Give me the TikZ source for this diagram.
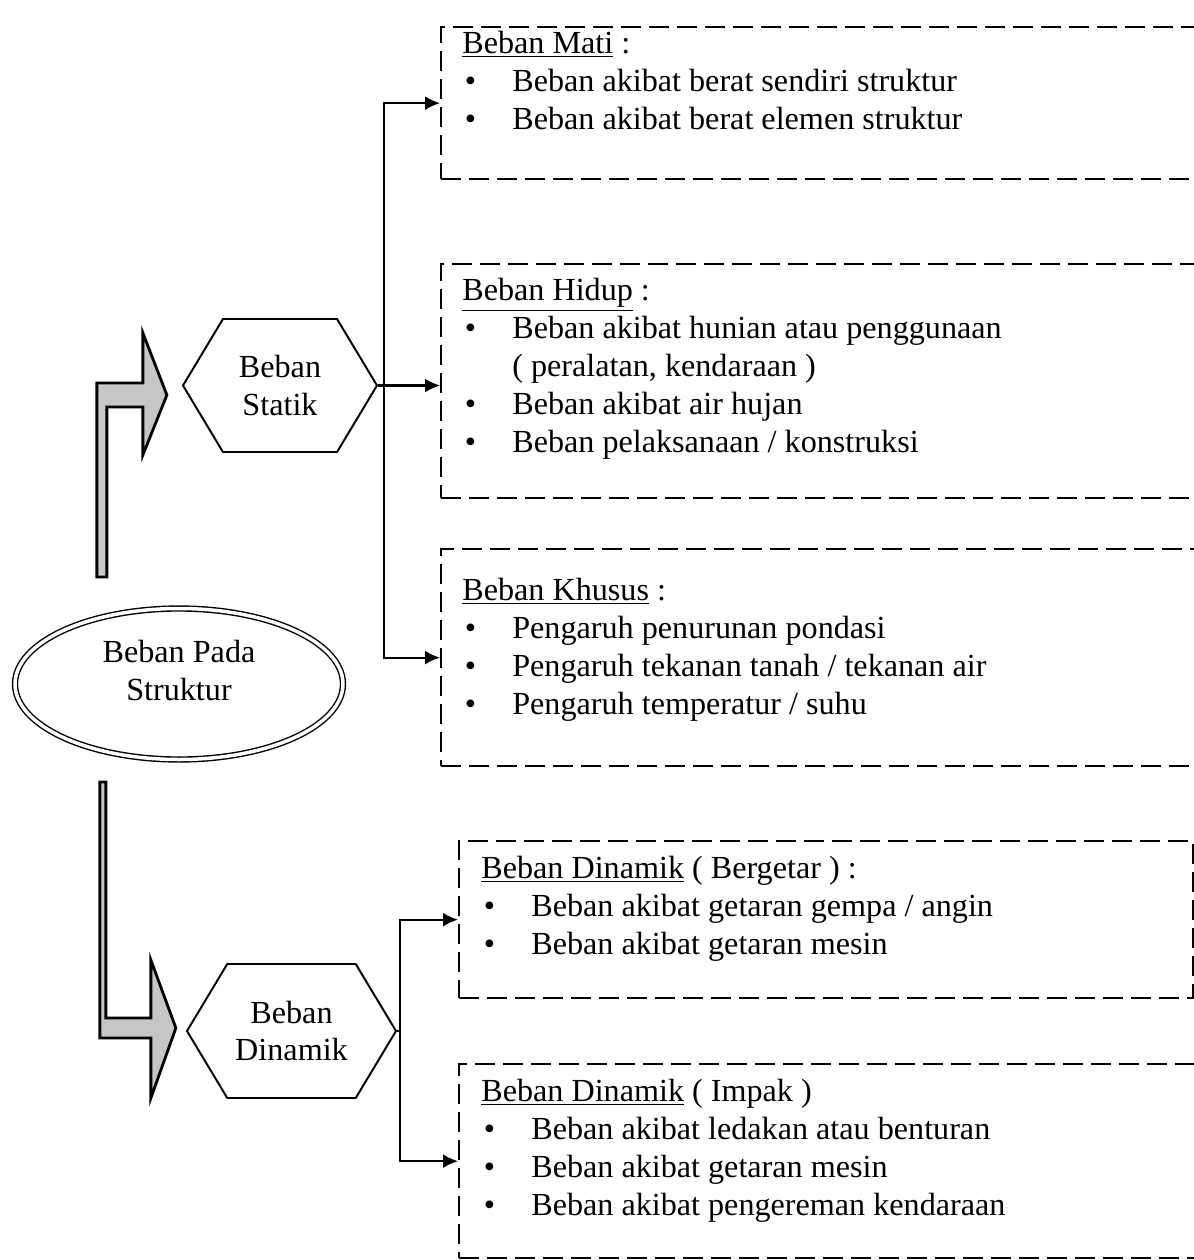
\documentclass[tikz,border=0pt]{standalone}
\usepackage{fontspec}
\setmainfont{Liberation Serif}
\usetikzlibrary{arrows.meta,shapes.geometric,shapes.symbols}
\tikzstyle{kotak} = [draw, dash pattern=on 0.4cm off 0.16cm, line width=1.3pt,
    rectangle, anchor=north west, inner sep=0pt]
\tikzstyle{isi} = [anchor=base west, align=left, inner sep=0pt]
\tikzstyle{segienam} = [draw, line width=1.1pt, signal, signal to=west and east,
    signal pointer angle=118, align=center, inner sep=0pt]
\tikzstyle{blokpanah} = [draw, line width=1.6pt, fill=gray!45, line join=miter]
\tikzstyle{garis} = [line width=1.2pt]
\newcommand{\butir}{\makebox[1cm][l]{\hspace{0.05cm}\textbullet}}

\begin{document}
\begin{tikzpicture}[>={Latex[length=3mm,width=2.8mm]}, font=\fontsize{18.3pt}{21.6pt}\selectfont]
    \useasboundingbox (0,0) rectangle (23.88,-25.2);
    \clip (0,0) rectangle (23.88,-25.2);
    % induk dan cabang
    \node [ellipse, draw, double, double distance=0.07cm, line width=0.8pt, minimum width=6.56cm,
        minimum height=3.02cm, inner sep=0pt, align=center] (pada) at (3.58,-13.68) {Beban Pada\\Struktur\\[-0.45cm]\strut};
    \node [segienam, minimum width=3.88cm, minimum height=2.66cm] (statik) at (5.6,-7.71) {Beban\\Statik};
    \node [segienam, minimum width=4.18cm, minimum height=2.68cm] (dinamik) at (5.83,-20.62) {Beban\\Dinamik};
    % kotak beban
    \node [kotak, minimum width=15.6cm, minimum height=3.04cm] (mati) at (8.8,-0.52) {};
    \node [kotak, minimum width=15.6cm, minimum height=4.69cm] (hidup) at (8.8,-5.25) {};
    \node [kotak, minimum width=15.6cm, minimum height=4.34cm] (khusus) at (8.8,-10.96) {};
    \node [kotak, minimum width=14.68cm, minimum height=3.14cm] (getar) at (9.16,-16.8) {};
    \node [kotak, minimum width=15.5cm, minimum height=3.88cm] (impak) at (9.16,-21.26) {};
    % isi kotak (base = baris terakhir)
    \node [isi] (mati-isi) at ([shift={(0.44,-2.07)}]mati.north west) {\underline{Beban Mati} :\\
        \butir Beban akibat berat sendiri struktur\\
        \butir Beban akibat berat elemen struktur};
    \node [isi] (hidup-isi) at ([shift={(0.44,-3.8)}]hidup.north west) {\underline{Beban Hidup} :\\
        \butir Beban akibat hunian atau penggunaan\\
        \hspace*{1cm}( peralatan, kendaraan )\\
        \butir Beban akibat air hujan\\
        \butir Beban pelaksanaan / konstruksi};
    \node [isi] (khusus-isi) at ([shift={(0.44,-3.33)}]khusus.north west) {\underline{Beban Khusus} :\\
        \butir Pengaruh penurunan pondasi\\
        \butir Pengaruh tekanan tanah / tekanan air\\
        \butir Pengaruh temperatur / suhu};
    \node [isi] (getar-isi) at ([shift={(0.46,-2.28)}]getar.north west) {\underline{Beban Dinamik} ( Bergetar ) :\\
        \butir Beban akibat getaran gempa / angin\\
        \butir Beban akibat getaran mesin};
    \node [isi] (impak-isi) at ([shift={(0.46,-3.05)}]impak.north west) {\underline{Beban Dinamik} ( Impak )\\
        \butir Beban akibat ledakan atau benturan\\
        \butir Beban akibat getaran mesin\\
        \butir Beban akibat pengereman kendaraan};
    % panah besar
    \draw [blokpanah] ([shift={(-0.3,-0.19)}]statik.west) -- ++(-0.48,-1.2) -- ++(0,0.96) -- ++(-0.72,0)
        -- ++(0,-3.4) -- ++(-0.2,0) -- ++(0,3.88) -- ++(0.92,0) -- ++(0,1.0) -- cycle;
    \draw [blokpanah] ([shift={(-0.2,0.06)}]dinamik.west) -- ++(-0.5,-1.4) -- ++(0,1.2) -- ++(-1.02,0)
        -- ++(0,5.12) -- ++(0.12,0) -- ++(0,-4.72) -- ++(0.9,0) -- ++(0,1.16) -- cycle;
    % penghubung
    \coordinate (cabangS) at ([xshift=0.12cm]statik.east);
    \coordinate (cabangD) at ([xshift=0.05cm]dinamik.east);
    \draw [garis] (statik.east) -- (cabangS);
    \draw [garis,->] (cabangS) |- (mati.west);
    \draw [garis,->] (cabangS) |- (khusus.west);
    \draw [garis,->] (cabangS) -- (cabangS -| hidup.west);
    \draw [garis] (dinamik.east) -- (cabangD);
    \draw [garis,->] (cabangD) |- (getar.west);
    \draw [garis,->] (cabangD) |- (impak.west);
\end{tikzpicture}
\end{document}
